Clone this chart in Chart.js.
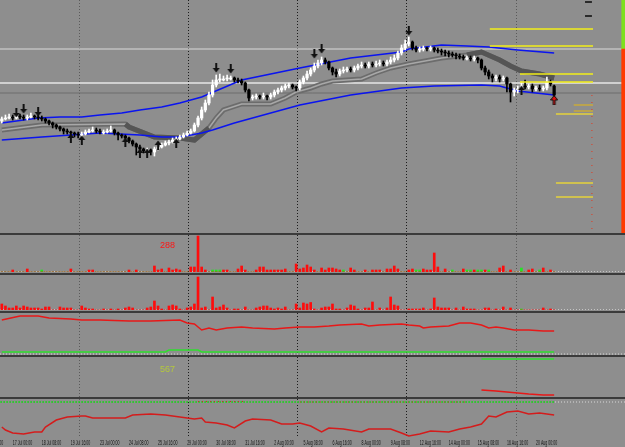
<!DOCTYPE html>
<html>
<head>
<meta charset="utf-8">
<title>H4 chart</title>
<script src="https://cdn.jsdelivr.net/npm/chart.js@4.4.1/dist/chart.umd.min.js"></script>
<style>
  html, body { margin: 0; padding: 0; background: #8e8e8e; }
  #wrap { position: relative; width: 625px; height: 447px; overflow: hidden; background: #8e8e8e; }
  #wrap canvas { position: absolute; left: 0; }
  .sep { position: absolute; left: 0; width: 625px; height: 2px; background: #3b3b3b; }
</style>
</head>
<body>
<div id="wrap">
  <canvas id="cMain" width="625" height="233" style="top:0px"></canvas>
  <div class="sep" style="top:233px"></div>
  <canvas id="cVol1" width="625" height="37" style="top:235px"></canvas>
  <div class="sep" style="top:273px"></div>
  <canvas id="cVol2" width="625" height="35" style="top:275px"></canvas>
  <div class="sep" style="top:311px"></div>
  <canvas id="cOsc1" width="625" height="42" style="top:313px"></canvas>
  <div class="sep" style="top:355px"></div>
  <canvas id="cOsc2" width="625" height="40" style="top:357px"></canvas>
  <div class="sep" style="top:397px"></div>
  <canvas id="cOsc3" width="625" height="48" style="top:399px"></canvas>
</div>
<script>
// slots de barres sur toute la largeur (153 bougies + marge vide a droite)
const SLOTS = 172;
const slotLabels = Array.from({length: SLOTS}, (_, i) => String(i));

// axe du temps : une etiquette toutes les 8 bougies H4
const tickLabels = ['15 Jul 16:00', '17 Jul 00:00', '18 Jul 08:00', '19 Jul 16:00', '23 Jul 00:00',
  '24 Jul 08:00', '25 Jul 16:00', '29 Jul 00:00', '30 Jul 08:00', '31 Jul 16:00', '2 Aug 00:00',
  '5 Aug 08:00', '6 Aug 16:00', '8 Aug 00:00', '9 Aug 08:00', '12 Aug 16:00', '14 Aug 00:00',
  '15 Aug 08:00', '16 Aug 16:00', '20 Aug 00:00'];
const firstTickBar = -5;
const tickStep = 8;
const gridBars = [21.2, 51.2, 81.2, 111.2, 141.5];

// bougies
const opens = [111,113,114,115,114,116,115,114,115,116, 115,114,113,111,109,107,105,103,101,100,
  99,98,97,98,100,101,102,101,100,100, 101,102,99,97,96,94,91,88,85,83,
  81,82,80,83,85,87,89,90,92,93, 95,97,99,101,107,114,122,129,137,147,
  152,153,153,154,154,152,151,149,142,134, 135,136,135,136,135,137,140,142,144,146,
  147,145,144,150,154,158,162,166,169,172, 170,164,160,158,161,162,163,162,164,166,
  167,166,168,167,168,169,168,170,172,174, 179,184,188,190,184,182,183,184,183,184,
  182,181,180,179,178,177,176,175,174,174, 173,174,172,164,160,156,154,155,153,154,
  148,140,142,143,146,145,146,143,144,143, 144,150,146];
const highs = [115,117,118,117,119,118,117,117,119,117, 117,116,114,112,110,108,106,104,103,101,
  100,100,100,102,103,105,104,103,102,103, 106,103,100,98,97,95,92,89,87,84,
  84,83,85,87,89,91,92,94,95,97, 99,101,103,109,116,125,132,140,152,157,
  158,156,157,156,155,154,153,150,143,137, 138,137,139,137,139,142,144,146,148,149,
  148,146,152,156,161,164,169,172,175,174, 171,165,163,163,165,165,165,166,168,170,
  169,170,170,171,172,171,172,175,177,181, 187,192,195,191,186,185,186,185,186,185,
  184,183,182,181,180,179,178,177,176,176, 176,175,173,166,162,158,157,157,156,155,
  149,144,146,150,152,148,148,146,147,146, 155,152,147];
const lows = [109,112,113,112,113,113,112,112,114,113, 112,111,109,107,104,103,101,98,98,97,
  95,94,95,97,99,100,99,98,98,99, 100,97,92,94,91,89,86,77,80,79,
  80,77,76,82,84,86,87,89,90,92, 94,96,98,100,105,112,120,127,135,145,
  150,151,151,152,150,149,147,140,131,132, 133,133,133,132,133,135,138,140,142,144,
  143,141,142,148,152,156,160,164,167,168, 162,157,155,156,159,160,160,160,162,164,
  164,164,165,165,166,166,166,168,170,172, 177,182,186,182,180,180,181,181,181,180,
  179,177,176,175,175,173,173,172,172,171, 171,169,162,157,153,150,151,150,151,140,
  130,136,139,141,143,143,140,141,141,141, 142,146,133];
const closes = [113,114,115,114,116,115,114,115,116,115, 114,113,111,109,107,105,103,101,100,99,
  98,97,98,100,101,102,101,100,100,101, 102,99,97,96,94,91,88,85,83,81,
  82,80,83,85,87,89,90,92,93,95, 97,99,101,107,114,122,129,137,147,152,
  153,153,154,154,152,151,149,142,134,135, 136,135,136,135,137,140,142,144,146,147,
  145,144,150,154,158,162,166,169,172,170, 164,160,158,161,162,163,162,164,166,167,
  166,168,167,168,169,168,170,172,174,179, 184,188,190,184,182,183,184,183,184,182,
  181,180,179,178,177,176,175,174,174,173, 174,172,164,160,156,154,155,153,154,148,
  140,142,143,146,145,146,143,144,143,144, 150,148,137];

// enveloppe bleue
const upperBars = [0,10,16,22,27,33,38,44,49,55,66,82,96,110,112,121,128,134,142,152];
const upperVals = [109,114,115,115,117,119,122,125,129,135,152,164,174,180,183,187,186,185,182,179];
const lowerBars = [0,11,27,38,44,49,55,58,64,82,96,110,119,132,137,142,152];
const lowerVals = [92,95,99,97,95,95,99,102,109,127,137,144,146,147,146,141,137];

// ruban gris (plus sombre quand il baisse)
const ribbonBars = [0,11,34,35,42,49,53,57,59,61,66,74,78,81,85,88,91,99,103,107,112,121,128,132,137,140,143,148,152];
const ribbonVals = [102,107,108,105,95,94,92,104,114,122,128,128,134,140,144,148,151,153,159,164,168,174,177,180,172,166,161,158,154];
const ribbonDarkSpans = [[34, 57], [128, 152]];

// fleches
const downArrowBars = [4,6,10,59,63,86,88,112];
const downArrowVals = [119,123,120,164,163,178,183,201];
const upArrowBars = [19,22,34,38,40,43,48,143];
const upArrowVals = [94,92,90,79,79,87,89,142];
const signalBars = [152];
const signalVals = [132];

// niveaux horizontaux
const refLevels = [183, 149, 139];
const goldLevels = [203, 186, 158, 150, 127, 121, 118, 49, 35];
const goldFrom = [134.3, 134.3, 142.6, 142.6, 157.4, 157.4, 152.5, 152.5, 152.5];
const goldTo = 162.7;
const edgeSplit = 183;

// histogrammes (rouge = baisse, vert = hausse)
const vol1Dn = [0,0,0,16,0,0,0,24,0,0, 0,0,0,0,0,0,0,0,0,24, 0,0,0,0,16,16,0,0,0,0,
  0,0,0,0,0,16,0,16,0,0, 0,0,48,16,24,0,32,16,24,16, 0,0,40,40,288,40,16,0,0,0,
  0,16,16,0,0,24,48,16,0,0, 16,40,40,16,16,16,16,16,24,0, 0,64,24,32,56,40,16,0,32,16,
  32,32,24,16,0,0,32,16,0,0, 16,0,16,16,16,0,24,24,48,24, 0,0,16,24,0,0,24,16,16,152,
  40,0,24,0,0,0,0,24,0,0, 16,0,0,16,0,0,0,32,48,0, 16,0,0,0,0,16,24,0,0,32, 0,16,0];
const vol1Up = [0,0,0,0,0,0,0,0,0,0, 0,16,0,0,0,0,0,0,0,0, 0,0,0,0,0,0,0,0,0,0,
  0,0,0,0,0,0,0,0,0,0, 0,0,0,0,0,0,0,0,0,0, 0,0,0,0,0,0,0,0,16,16,
  16,0,0,0,0,0,0,0,0,0, 0,0,0,0,0,0,0,0,0,0, 0,0,0,0,0,0,0,0,0,0,
  0,0,0,0,16,0,0,0,0,0, 0,0,0,0,0,0,0,0,0,0, 0,0,0,0,16,16,0,0,0,0,
  0,0,0,0,16,0,0,0,16,16, 0,16,16,0,16,0,0,0,0,0, 0,0,0,32,0,0,0,0,16,0, 0,0,0];
const vol2Dn = [48,32,16,16,32,16,32,24,16,16, 16,8,24,24,0,0,24,16,16,16, 0,0,32,16,8,8,0,0,8,0,
  8,0,8,0,16,24,16,0,0,0, 16,24,72,32,8,0,32,40,32,8, 0,16,24,48,264,16,24,0,104,16,
  24,40,16,0,8,8,0,24,0,0, 16,24,32,32,16,8,16,8,24,0, 0,48,16,56,48,60,8,0,16,24,
  24,48,8,8,0,16,40,32,8,0, 16,16,64,0,16,0,16,104,40,32, 0,0,8,8,8,8,16,0,8,96,
  24,16,16,16,0,16,0,24,8,8, 8,0,0,16,16,0,8,0,24,0, 16,0,0,0,0,0,0,0,0,16, 0,8,0];
const vol2UpBars = [143];
const vol2UpVals = [8];

// oscillateurs
const osc1Bars = [0,5,10,13,19,22,27,35,41,49,51,53,55,57,59,62,66,69,75,78,82,86,90,93,99,101,104,110,112,115,116,118,123,126,129,132,134,136,138,141,145,149,152];
const osc1Vals = [35,39,39,37,36,35,35,34,34,35,32,31,25,27,25,27,28,27,26,27,28,28,29,30,31,29,30,31,30,29,27,28,29,32,32,30,27,28,27,25,25,24,24];
const osc1SigBars = [0,45,46,54,55,152];
const osc1SigVals = [3,3,5,5,3,3];
const osc2SigBars = [132,152];
const osc2SigVals = [38,38];
const osc2Bars = [132,136,139,142,145,149,152];
const osc2Vals = [7,6,5,4,3,2,2];
const osc3Bars = [0,1,3,6,9,11,12,15,18,22,23,25,29,34,36,41,45,49,53,55,56,59,62,64,67,69,74,77,80,82,85,88,90,94,99,101,104,107,110,112,115,118,123,126,129,132,134,136,139,142,145,148,152];
const osc3Vals = [10,7,4,3,5,5,10,17,20,21,21,19,19,19,22,23,22,20,18,19,15,14,12,9,16,18,17,13,13,14,11,5,9,8,5,8,8,8,4,1,3,6,5,8,10,13,21,20,25,26,23,24,22];
const osc3Level = 35;

// ---------- helpers ----------
function pts(bars, vals) { return bars.map((b, i) => ({x: b, y: vals[i]})); }
function hline(level, from, to) { return [{x: from, y: level}, {x: to, y: level}]; }
function lineDs(data, color, width, extra) {
  return Object.assign({type: 'line', xAxisID: 'xl', data: data, borderColor: color,
    borderWidth: width, pointRadius: 0, fill: false, tension: 0, order: 6}, extra || {});
}
function scalesFor(yMin, yMax) {
  return {
    x: {type: 'category', display: false, offset: true},
    // offset false : sinon le type bar decale l'axe lineaire
    xl: {type: 'linear', display: false, offset: false, min: -0.5, max: SLOTS - 0.5},
    y: {display: false, min: yMin, max: yMax}
  };
}
function makeArrow(dir, fill, stroke) {
  const c = document.createElement('canvas');
  c.width = 8; c.height = 10;
  const g = c.getContext('2d');
  g.fillStyle = fill;
  g.beginPath();
  if (dir === 'down') {
    g.moveTo(3, 0); g.lineTo(5, 0); g.lineTo(5, 5); g.lineTo(7.5, 5);
    g.lineTo(4, 9.5); g.lineTo(0.5, 5); g.lineTo(3, 5);
  } else {
    g.moveTo(3, 10); g.lineTo(5, 10); g.lineTo(5, 5); g.lineTo(7.5, 5);
    g.lineTo(4, 0.5); g.lineTo(0.5, 5); g.lineTo(3, 5);
  }
  g.closePath(); g.fill();
  if (stroke) { g.strokeStyle = stroke; g.lineWidth = 1; g.stroke(); }
  return c;
}
const arrowDown = makeArrow('down', '#111');
const arrowUp = makeArrow('up', '#111');
const arrowSignal = makeArrow('up', '#e01010', '#111');

const gridPlugin = {
  id: 'mtGrid',
  beforeDatasetsDraw(chart) {
    const {ctx, chartArea: a} = chart;
    const sx = chart.scales.xl;
    ctx.save();
    ctx.lineWidth = 1;
    ctx.setLineDash([1, 2]);
    gridBars.forEach((b, k) => {
      const x = Math.round(sx.getPixelForValue(b)) + 0.5;
      ctx.strokeStyle = (k === 0 || k === gridBars.length - 1) ? '#5a5a5a' : '#1c1c1c';
      ctx.beginPath(); ctx.moveTo(x, a.top); ctx.lineTo(x, a.bottom); ctx.stroke();
    });
    ctx.restore();
  }
};

const noteText = {
  id: 'noteText',
  afterDatasetsDraw(chart, args, opts) {
    if (!opts.text) return;
    const {ctx, chartArea: a} = chart;
    ctx.save();
    ctx.font = '9px "Liberation Sans", Arial, sans-serif';
    ctx.fillStyle = opts.color;
    ctx.textBaseline = 'middle';
    ctx.fillText(opts.text, a.left + opts.dx, a.top + opts.dy);
    ctx.restore();
  }
};

const timeAxis = {
  id: 'timeAxis',
  afterDraw(chart) {
    const {ctx, chartArea: a} = chart;
    const sx = chart.scales.x;
    ctx.save();
    ctx.font = '6.5px "Liberation Sans", Arial, sans-serif';
    ctx.fillStyle = '#141414';
    ctx.textBaseline = 'middle';
    tickLabels.forEach((t, k) => {
      const x = sx.getPixelForValue(firstTickBar + k * tickStep);
      ctx.save();
      ctx.translate(x, a.bottom + 6);
      ctx.scale(0.55, 1);
      ctx.fillText(t, 0, 0);
      ctx.restore();
    });
    ctx.restore();
  }
};

function baseOptions(yMin, yMax, extraPlugins) {
  return {
    responsive: false, animation: false, devicePixelRatio: 1, events: [],
    layout: {padding: 0, autoPadding: false},
    scales: scalesFor(yMin, yMax),
    plugins: Object.assign({legend: {display: false}, tooltip: {enabled: false}}, extraPlugins || {})
  };
}

const isUp = i => closes[i] >= opens[i];
const ribbonPts = pts(ribbonBars, ribbonVals);

// ---------- graphique principal ----------
new Chart(document.getElementById('cMain'), {
  type: 'bar',
  data: {
    labels: slotLabels,
    datasets: [
      lineDs(hline(refLevels[0], -0.5, SLOTS - 0.5), '#dadada', 1, {order: 30}),
      lineDs(hline(refLevels[1], -0.5, SLOTS - 0.5), '#d0d0d0', 2, {order: 30}),
      lineDs(hline(refLevels[2], -0.5, SLOTS - 0.5), '#6c6c6c', 1, {order: 30}),
      lineDs(ribbonPts, '#6c6c6c', 5, {order: 25}),
      lineDs(ribbonPts, '#a8a8a8', 1.5, {order: 24}),
      ...ribbonDarkSpans.map(s => lineDs(ribbonPts.filter(p => p.x >= s[0] && p.x <= s[1]),
        '#555555', 5, {order: 23})),
      lineDs(pts(upperBars, upperVals), '#0a14f0', 1.5, {order: 20}),
      lineDs(pts(lowerBars, lowerVals), '#0a14f0', 1.5, {order: 20}),
      {
        data: highs.map((h, i) => [lows[i], h]),
        backgroundColor: c => isUp(c.dataIndex) ? '#ffffff' : '#000000',
        barThickness: 1, grouped: false, order: 15
      },
      {
        data: opens.map((o, i) => [o, closes[i]]),
        backgroundColor: c => isUp(c.dataIndex) ? '#ffffff' : '#000000',
        barThickness: 2.6, minBarLength: 1, grouped: false, order: 14
      },
      {type: 'scatter', xAxisID: 'xl', data: pts(downArrowBars, downArrowVals), pointStyle: arrowDown, order: 5},
      {type: 'scatter', xAxisID: 'xl', data: pts(upArrowBars, upArrowVals), pointStyle: arrowUp, order: 5},
      {type: 'scatter', xAxisID: 'xl', data: pts(signalBars, signalVals), pointStyle: arrowSignal, order: 4},
      ...goldLevels.map((L, k) => lineDs(hline(L, goldFrom[k], goldTo),
        k < 4 ? '#f2ee18' : (k < 6 ? '#c8aa3a' : '#e4d23a'), 1.5, {order: 8})),
      lineDs([{x: 162.4, y: 137}, {x: 162.4, y: -1}], '#e03a20', 1, {borderDash: [1, 6], order: 8}),
      lineDs(hline(230, 160.5, 162.4), '#2a2a2a', 2, {order: 8}),
      lineDs(hline(216, 160.5, 162.4), '#2a2a2a', 2, {order: 8}),
      {data: [{x: String(SLOTS - 1), y: [-1, edgeSplit]}], backgroundColor: '#ff3a00', barThickness: 3, grouped: false, order: 3},
      {data: [{x: String(SLOTS - 1), y: [edgeSplit, 232]}], backgroundColor: '#7ee01e', barThickness: 3, grouped: false, order: 3}
    ]
  },
  options: baseOptions(-1, 232),
  plugins: [gridPlugin]
});

// ---------- histogrammes ----------
new Chart(document.getElementById('cVol1'), {
  type: 'bar',
  data: {
    labels: slotLabels,
    datasets: [
      {data: vol1Dn, backgroundColor: '#ff0c0c', barThickness: 2, grouped: false, order: 2},
      {data: vol1Up, backgroundColor: '#22e622', barThickness: 2, grouped: false, order: 2},
      lineDs(hline(4, -0.5, SLOTS - 0.5), '#c4c4c4', 1, {borderDash: [1, 2], order: 9})
    ]
  },
  options: baseOptions(0, 296, {noteText: {text: '288', color: '#ff1414', dx: 160, dy: 10.5}}),
  plugins: [gridPlugin, noteText]
});

new Chart(document.getElementById('cVol2'), {
  type: 'bar',
  data: {
    labels: slotLabels,
    datasets: [
      {data: vol2Dn, backgroundColor: '#ff0c0c', barThickness: 2, grouped: false, order: 2},
      {type: 'bar', data: vol2UpBars.map((b, i) => ({x: String(b), y: vol2UpVals[i]})), backgroundColor: '#22e622', barThickness: 2, grouped: false, order: 2},
      lineDs(hline(4, -0.5, SLOTS - 0.5), '#c4c4c4', 1, {borderDash: [1, 2], order: 9})
    ]
  },
  options: baseOptions(0, 280),
  plugins: [gridPlugin]
});

// ---------- oscillateurs ----------
new Chart(document.getElementById('cOsc1'), {
  type: 'line',
  data: {
    labels: slotLabels,
    datasets: [
      lineDs(hline(1, -0.5, SLOTS - 0.5), '#d8d8d8', 1, {borderDash: [1, 2], order: 9}),
      lineDs(pts(osc1SigBars, osc1SigVals), '#2ee02e', 1.5, {order: 4}),
      lineDs(pts(osc1Bars, osc1Vals), '#e81818', 1.5, {order: 3})
    ]
  },
  options: baseOptions(0, 42),
  plugins: [gridPlugin]
});

new Chart(document.getElementById('cOsc2'), {
  type: 'line',
  data: {
    labels: slotLabels,
    datasets: [
      lineDs(pts(osc2SigBars, osc2SigVals), '#2ee02e', 1.5, {order: 4}),
      lineDs(pts(osc2Bars, osc2Vals), '#e81818', 1.5, {order: 3})
    ]
  },
  options: baseOptions(0, 40, {noteText: {text: '567', color: '#b4c83c', dx: 160, dy: 13}}),
  plugins: [gridPlugin, noteText]
});

const osc3Opts = baseOptions(0, 38);
osc3Opts.layout = {padding: {bottom: 10}, autoPadding: false};
new Chart(document.getElementById('cOsc3'), {
  type: 'line',
  data: {
    labels: slotLabels,
    datasets: [
      lineDs(hline(osc3Level, -0.5, SLOTS - 0.5), '#d8d8d8', 1, {borderDash: [1, 2], order: 9}),
      lineDs(hline(osc3Level, -0.5, 152), '#1fc81f', 1.5, {borderDash: [2, 1], order: 8}),
      lineDs(hline(osc3Level + 0.5, 54, 67), '#d82020', 1, {borderDash: [1, 3], order: 7}),
      lineDs(hline(osc3Level, 82, 128), '#d82020', 1, {borderDash: [1, 3], order: 7}),
      lineDs(pts(osc3Bars, osc3Vals), '#d41c1c', 1.5, {order: 3})
    ]
  },
  options: osc3Opts,
  plugins: [gridPlugin, timeAxis]
});
</script>
</body>
</html>
